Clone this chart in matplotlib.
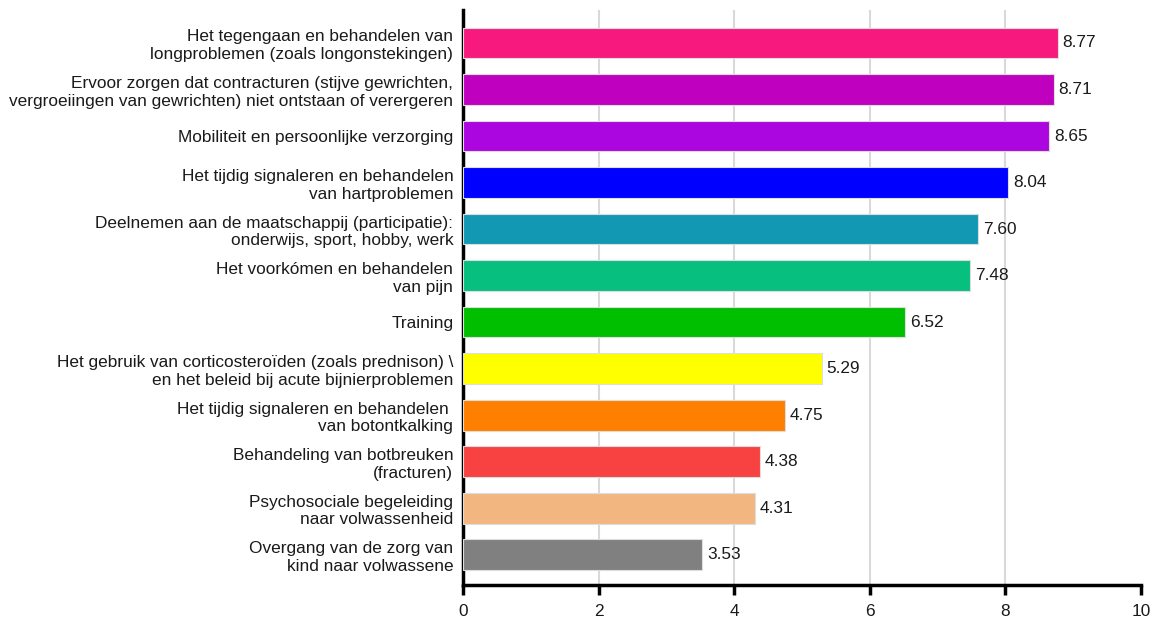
import matplotlib
matplotlib.use('Agg')
import matplotlib.pyplot as plt
import numpy as np

plt.rcParams['font.family'] = ['Liberation Sans', 'DejaVu Sans']

# data (top to bottom)
labels = [
    'Het tegengaan en behandelen van\nlongproblemen (zoals longonstekingen)',
    'Ervoor zorgen dat contracturen (stijve gewrichten,\nvergroeiingen van gewrichten) niet ontstaan of verergeren',
    'Mobiliteit en persoonlijke verzorging',
    'Het tijdig signaleren en behandelen\nvan hartproblemen',
    'Deelnemen aan de maatschappij (participatie):\nonderwijs, sport, hobby, werk',
    'Het voorkómen en behandelen\nvan pijn',
    'Training',
    'Het gebruik van corticosteroïden (zoals prednison) \\\nen het beleid bij acute bijnierproblemen',
    'Het tijdig signaleren en behandelen \nvan botontkalking',
    'Behandeling van botbreuken\n(fracturen)',
    'Psychosociale begeleiding\nnaar volwassenheid',
    'Overgang van de zorg van\nkind naar volwassene',
]
scores = [8.77, 8.71, 8.65, 8.04, 7.60, 7.48, 6.52, 5.29, 4.75, 4.38, 4.31, 3.53]
colors = ['#F8197F', '#C000BF', '#AC06E0', '#0000FF', '#1398B4', '#07BF7E',
          '#00BF00', '#FFFF00', '#FF7F00', '#F84242', '#F2B781', '#808080']
xticks = [0, 2, 4, 6, 8, 10]

fig = plt.figure(figsize=(11.54, 6.23), dpi=100)
ax = fig.add_axes([0.4012, 0.061, 0.5875, 0.923])

y = np.arange(len(scores))
ax.barh(y, scores, height=0.66, color=colors, edgecolor='#dddddd', linewidth=0.8, zorder=3)
for yi, v in zip(y, scores):
    ax.text(v + 0.07, yi, f'{v:.2f}', va='center', ha='left', fontsize=12.4, color='#1a1a1a', zorder=4)

ax.set_ylim(len(scores) - 1 + 0.65, -0.71)
ax.set_xlim(0, 10)
ax.set_yticks(y)
ax.set_yticklabels(labels, fontsize=12.4, color='#1a1a1a', linespacing=1.22)
ax.set_xticks(xticks)
ax.set_xticklabels([str(t) for t in xticks], fontsize=12.4, color='#1a1a1a')

for t in xticks[1:-1]:
    ax.axvline(t, color='#d9d9d9', linewidth=1.5, zorder=1)

ax.spines['top'].set_visible(False)
ax.spines['right'].set_visible(False)
ax.spines['left'].set_linewidth(2.5)
ax.spines['bottom'].set_linewidth(2.5)
ax.tick_params(axis='y', length=0, pad=7)
ax.tick_params(axis='x', length=7, width=2.5, pad=7)

fig.savefig('out.png', dpi=100)
